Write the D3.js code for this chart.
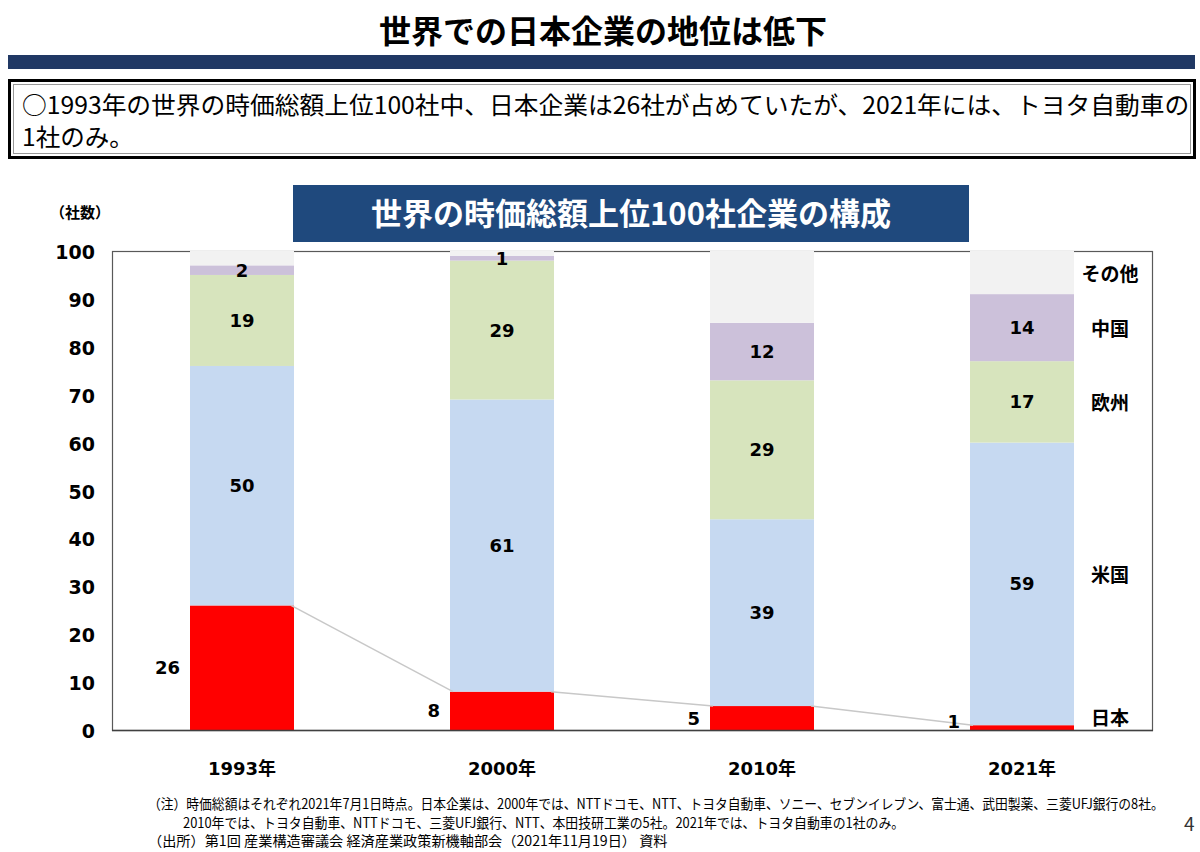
<!DOCTYPE html>
<html>
<head>
<meta charset="utf-8">
<script src="https://cdn.jsdelivr.net/npm/d3@7"></script>
<style>
  body { margin: 0; background: #fff; }
  svg { display: block; font-family: "Noto Sans CJK JP", "Noto Sans", sans-serif; }
  .num { font-family: "DejaVu Sans", "Noto Sans CJK JP", sans-serif; font-weight: bold; }
</style>
</head>
<body>
<svg id="chart" width="1200" height="852"></svg>
<script>
// data
const years = ["1993年", "2000年", "2010年", "2021年"];
const japan = [26, 8, 5, 1];
const usa = [50, 61, 39, 59];
const europe = [19, 29, 29, 17];
const china = [2, 1, 12, 14];
const other = [3, 1, 15, 9];
const seriesNames = ["日本", "米国", "欧州", "中国", "その他"];
const seriesColors = ["#ff0000", "#c6d9f1", "#d7e4bd", "#ccc1da", "#f2f2f2"];
const yTicks = [0, 10, 20, 30, 40, 50, 60, 70, 80, 90, 100];

const notes = [
  "（注）時価総額はそれぞれ2021年7月1日時点。日本企業は、2000年では、NTTドコモ、NTT、トヨタ自動車、ソニー、セブンイレブン、富士通、武田製薬、三菱UFJ銀行の8社。",
  "2010年では、トヨタ自動車、NTTドコモ、三菱UFJ銀行、NTT、本田技研工業の5社。2021年では、トヨタ自動車の1社のみ。",
  "（出所）第1回 産業構造審議会 経済産業政策新機軸部会（2021年11月19日） 資料"
];

const table = years.map((y, i) => ({
  year: y, "日本": japan[i], "米国": usa[i], "欧州": europe[i], "中国": china[i], "その他": other[i]
}));

const svg = d3.select("#chart");

// squeeze a text horizontally so it spans the given width
function fitText(sel, width) {
  const w = sel.node().getComputedTextLength();
  const x0 = +sel.attr("x"), y0 = +sel.attr("y");
  sel.attr("x", 0).attr("y", 0)
    .attr("transform", `translate(${x0},${y0}) scale(${width / w},1)`);
}

// page title + navy rule
svg.append("text")
  .attr("x", 603).attr("y", 43)
  .attr("text-anchor", "middle")
  .style("font-size", "32px").style("font-weight", "bold")
  .text("世界での日本企業の地位は低下");

svg.append("rect")
  .attr("x", 8).attr("y", 55).attr("width", 1187).attr("height", 14)
  .attr("fill", "#203864");

// summary box
svg.append("rect")
  .attr("x", 9.5).attr("y", 80.5).attr("width", 1185).attr("height", 77)
  .attr("fill", "#fff").attr("stroke", "#000").attr("stroke-width", 3);
svg.append("rect")
  .attr("x", 13.5).attr("y", 84.5).attr("width", 1177).attr("height", 69)
  .attr("fill", "none").attr("stroke", "#999").attr("stroke-width", 1);

svg.append("text")
  .attr("x", 22).attr("y", 114)
  .style("font-size", "24px")
  .text("○1993年の世界の時価総額上位100社中、日本企業は26社が占めていたが、2021年には、トヨタ自動車の")
  .call(fitText, 1168);
svg.append("text")
  .attr("x", 22).attr("y", 146)
  .style("font-size", "24px")
  .text("1社のみ。")
  .call(fitText, 112);

// chart title box
svg.append("rect")
  .attr("x", 293).attr("y", 185).attr("width", 676).attr("height", 57)
  .attr("fill", "#1f497d");
svg.append("text")
  .attr("x", 631).attr("y", 225)
  .attr("text-anchor", "middle")
  .attr("fill", "#fff")
  .style("font-size", "31px").style("font-weight", "bold")
  .text("世界の時価総額上位100社企業の構成");

// plot
const plotLeft = 112, plotRight = 1152, plotTop = 251, plotBottom = 730;

const x = d3.scaleBand()
  .domain(years)
  .range([plotLeft, plotRight])
  .paddingInner(0.6)
  .paddingOuter(0.3);

const y = d3.scaleLinear()
  .domain([0, 100])
  .range([plotBottom, plotTop]);

svg.append("rect")
  .attr("x", plotLeft + 0.5).attr("y", plotTop + 0.5)
  .attr("width", plotRight - plotLeft).attr("height", plotBottom - plotTop)
  .attr("fill", "none").attr("stroke", "#595959").attr("stroke-width", 1.2);

const stack = d3.stack().keys(seriesNames);
const layers = stack(table);
const color = d3.scaleOrdinal().domain(seriesNames).range(seriesColors);

const layerG = svg.append("g").selectAll("g")
  .data(layers)
  .join("g")
  .attr("fill", d => color(d.key));

layerG.selectAll("rect")
  .data(d => d)
  .join("rect")
  .attr("x", d => x(d.data.year))
  .attr("y", d => y(d[1]))
  .attr("width", x.bandwidth())
  .attr("height", d => y(d[0]) - y(d[1]));

// axis line at the bottom
svg.append("line")
  .attr("x1", plotLeft).attr("x2", plotRight + 1)
  .attr("y1", plotBottom + 0.5).attr("y2", plotBottom + 0.5)
  .attr("stroke", "#404040").attr("stroke-width", 1.5);

// connector for the Japan series
const jp = layers[0];
const connect = [];
jp.forEach((d, i) => {
  if (i < jp.length - 1) {
    connect.push([x(d.data.year) + x.bandwidth() - 3, y(d[1])]);
    connect.push([x(jp[i + 1].data.year) + 3, y(jp[i + 1][1])]);
  }
});
for (let i = 0; i < connect.length; i += 2) {
  svg.append("line")
    .attr("x1", connect[i][0]).attr("y1", connect[i][1])
    .attr("x2", connect[i + 1][0]).attr("y2", connect[i + 1][1])
    .attr("stroke", "#c8c8c8").attr("stroke-width", 1.5);
}

// value labels inside segments (not for その他)
layers.slice(1, 4).forEach(layer => {
  svg.append("g").selectAll("text")
    .data(layer)
    .join("text")
    .attr("class", "num")
    .attr("x", d => x(d.data.year) + x.bandwidth() / 2)
    .attr("y", d => (y(d[0]) + y(d[1])) / 2)
    .attr("text-anchor", "middle")
    .attr("dominant-baseline", "central")
    .style("font-size", "18px")
    .text(d => d[1] - d[0]);
});

// Japan labels to the left of the bars
svg.append("g").selectAll("text")
  .data(jp)
  .join("text")
  .attr("class", "num")
  .attr("x", d => x(d.data.year) - 10)
  .attr("y", d => Math.min((y(d[0]) + y(d[1])) / 2, plotBottom - 9))
  .attr("text-anchor", "end")
  .attr("dominant-baseline", "central")
  .style("font-size", "18px")
  .text(d => d[1] - d[0]);

// series names beside the last bar
const lastIdx = years.length - 1;
svg.append("g").selectAll("text")
  .data(layers)
  .join("text")
  .attr("x", 1110)
  .attr("y", d => Math.min((y(d[lastIdx][0]) + y(d[lastIdx][1])) / 2 - (d.key === "米国" ? 10 : 0), plotBottom - 14))
  .attr("text-anchor", "middle")
  .attr("dominant-baseline", "central")
  .style("font-size", "19px").style("font-weight", "bold")
  .text(d => d.key);

// y tick labels
svg.append("g").selectAll("text")
  .data(yTicks)
  .join("text")
  .attr("class", "num")
  .attr("x", 95)
  .attr("y", d => y(d) + 1)
  .attr("text-anchor", "end")
  .attr("dominant-baseline", "central")
  .style("font-size", "19px")
  .text(d => d);

svg.append("text")
  .attr("x", 80).attr("y", 218)
  .attr("text-anchor", "middle")
  .style("font-size", "15px").style("font-weight", "bold")
  .text("（社数）");

// x labels
svg.append("g").selectAll("text")
  .data(years)
  .join("text")
  .attr("class", "num")
  .attr("x", d => x(d) + x.bandwidth() / 2)
  .attr("y", 775)
  .attr("text-anchor", "middle")
  .style("font-size", "18px")
  .text(d => d);

// notes
const noteX = [148, 183, 148];
const noteY = [809, 828, 846];
const noteW = [1017, 722, 520];
notes.forEach((t, i) => {
  svg.append("text")
    .attr("x", noteX[i]).attr("y", noteY[i])
    .style("font-size", "14px")
    .text(t)
    .call(fitText, noteW[i]);
});

svg.append("text")
  .attr("x", 1184).attr("y", 831)
  .style("font-size", "19px").attr("fill", "#333")
  .text("4");
</script>
</body>
</html>
